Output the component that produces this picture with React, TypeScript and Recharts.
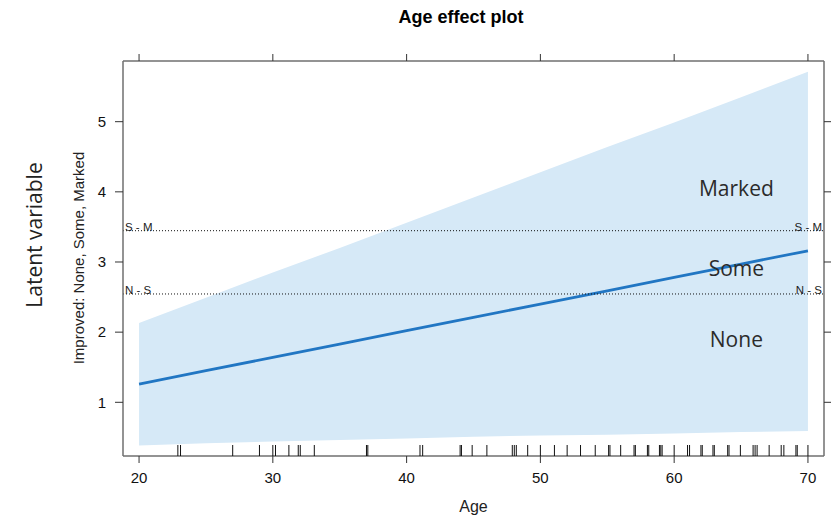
import React from 'react';
import {
  ComposedChart,
  Area,
  Line,
  XAxis,
  YAxis,
  ReferenceLine,
  ReferenceDot,
  Scatter,
  Label,
} from 'recharts';

// ---- data ----
const ages = [20, 25, 30, 35, 40, 45, 50, 55, 60, 65, 70];
const fitValues = [1.26, 1.45, 1.64, 1.83, 2.02, 2.21, 2.4, 2.59, 2.78, 2.97, 3.16];
const lowerValues = [0.384, 0.418, 0.441, 0.462, 0.484, 0.51, 0.528, 0.538, 0.555, 0.577, 0.591];
const upperValues = [2.13, 2.49, 2.85, 3.2, 3.56, 3.92, 4.28, 4.64, 4.99, 5.35, 5.71];

const xTicks = [20, 30, 40, 50, 60, 70];
const yTicks = [1, 2, 3, 4, 5];

const thresholdNames = ['S - M', 'N - S'];
const thresholdValues = [3.446, 2.544];

const categoryNames = ['Marked', 'Some', 'None'];
const categoryAges = [64.65, 64.65, 64.65];
const categoryValues = [4.04, 2.905, 1.9];

const rugAges = [
  22.9, 23.1, 27.0, 29.0, 30.0, 30.2, 31.2, 31.9, 32.05, 33.1, 37.0, 37.1, 41.0, 41.2, 44.0, 44.1,
  44.9, 46.0, 47.9, 48.05, 48.2, 49.05, 50.0, 51.05, 52.0, 53.0, 54.1, 55.1, 55.2, 56.0, 57.0, 57.1,
  58.0, 58.1, 58.9, 59.0, 59.1, 60.0, 61.0, 61.15, 62.0, 62.1, 62.9, 63.0, 64.0, 64.1, 64.95, 65.9,
  66.05, 66.2, 67.1, 68.0, 68.2, 69.1, 69.2, 70.0,
];

const X_DOMAIN: [number, number] = [18.8, 71.2];
const Y_DOMAIN: [number, number] = [0.2345, 5.865];

// ---- tables built from the arrays ----
const tableData = ages.map((a, i) => ({
  age: a,
  fit: fitValues[i],
  band: [lowerValues[i], upperValues[i]],
}));
const rugData = rugAges.map((a) => ({ age: a, base: Y_DOMAIN[0] }));

const RFONT = '"Liberation Sans", Arial, Helvetica, sans-serif';
const CFONT = '"Open Sans", "Noto Sans", sans-serif';

const ThresholdLabel = (props: any) => {
  const vb = props.viewBox || {};
  const x = vb.x ?? 0;
  const y = vb.y ?? 0;
  const w = vb.width ?? 0;
  return (
    <g>
      <text x={x + 2} y={y} fontSize={11.5} fontFamily={RFONT} fill="#222" textAnchor="start">
        {props.text}
      </text>
      <text x={x + w - 2} y={y} fontSize={11.5} fontFamily={RFONT} fill="#222" textAnchor="end">
        {props.text}
      </text>
    </g>
  );
};

const RugMark = (props: any) => {
  const { cx, cy } = props;
  if (cx == null || cy == null) return null;
  return <line x1={cx} y1={cy} x2={cx} y2={cy - 11} stroke="#111" strokeWidth={1} />;
};

export default function App() {
  return (
    <div style={{ position: 'absolute', left: 0, top: 0, width: 833, height: 515, background: '#fff' }}>
      <ComposedChart
        width={833}
        height={515}
        data={tableData}
        margin={{ top: 51, right: 0, bottom: 0, left: 0 }}
      >
        <XAxis
          dataKey="age"
          type="number"
          domain={X_DOMAIN}
          ticks={xTicks}
          allowDataOverflow
          interval={0}
          height={59}
          tickSize={7}
          tickMargin={9}
          axisLine={{ stroke: '#6f6f6f', strokeWidth: 1.5 }}
          tickLine={{ stroke: '#333' }}
          tick={{ fill: '#111', fontSize: 15, fontFamily: RFONT }}
        >
          <Label
            value="Age"
            position="insideBottom"
            offset={3}
            style={{ fill: '#222', fontSize: 16, fontFamily: RFONT }}
          />
        </XAxis>
        <XAxis
          xAxisId="t"
          orientation="top"
          dataKey="age"
          type="number"
          domain={X_DOMAIN}
          ticks={xTicks}
          allowDataOverflow
          interval={0}
          height={10}
          tickSize={7}
          tickFormatter={() => ''}
          axisLine={{ stroke: '#6f6f6f', strokeWidth: 1.5 }}
          tickLine={{ stroke: '#333' }}
        />
        <YAxis
          type="number"
          domain={Y_DOMAIN}
          ticks={yTicks}
          allowDataOverflow
          interval={0}
          width={123}
          tickSize={8}
          tickMargin={9}
          axisLine={{ stroke: '#6f6f6f', strokeWidth: 1.5 }}
          tickLine={{ stroke: '#333' }}
          tick={{ fill: '#111', fontSize: 15, fontFamily: RFONT }}
        />
        <YAxis
          yAxisId="r"
          orientation="right"
          type="number"
          domain={Y_DOMAIN}
          ticks={yTicks}
          allowDataOverflow
          interval={0}
          width={9}
          tickSize={7}
          tickFormatter={() => ''}
          axisLine={{ stroke: '#6f6f6f', strokeWidth: 1.5 }}
          tickLine={{ stroke: '#333' }}
        />
        <Area
          dataKey="band"
          type="linear"
          fill="#d6e9f7"
          fillOpacity={1}
          stroke="none"
          isAnimationActive={false}
        />
        <Line
          dataKey="fit"
          type="linear"
          stroke="#2176c3"
          strokeWidth={2.8}
          dot={false}
          isAnimationActive={false}
        />
        {thresholdValues.map((v, i) => (
          <ReferenceLine
            key={thresholdNames[i]}
            y={v}
            stroke="#111"
            strokeWidth={1}
            strokeDasharray="1 2"
            label={<ThresholdLabel text={thresholdNames[i]} />}
          />
        ))}
        <Scatter data={rugData} dataKey="base" shape={<RugMark />} isAnimationActive={false} />
        {categoryNames.map((name, i) => (
          <ReferenceDot
            key={name}
            x={categoryAges[i]}
            y={categoryValues[i]}
            r={1}
            fill="none"
            stroke="none"
            label={{
              value: name,
              position: 'center',
              fill: '#2b2b2b',
              fontSize: 21,
              fontFamily: CFONT,
            }}
          />
        ))}
      </ComposedChart>
      <svg
        width={833}
        height={515}
        style={{ position: 'absolute', left: 0, top: 0, pointerEvents: 'none' }}
      >
        <text
          x={461}
          y={23}
          textAnchor="middle"
          fontWeight="bold"
          fontSize={18}
          fontFamily={RFONT}
          fill="#000"
        >
          Age effect plot
        </text>
        <text
          transform="translate(42,235) rotate(-90)"
          textAnchor="middle"
          fontSize={21}
          fontFamily={CFONT}
          fill="#222"
        >
          Latent variable
        </text>
        <text
          transform="translate(84,258) rotate(-90)"
          textAnchor="middle"
          fontSize={15}
          fontFamily={RFONT}
          fill="#222"
        >
          Improved: None, Some, Marked
        </text>
      </svg>
    </div>
  );
}
